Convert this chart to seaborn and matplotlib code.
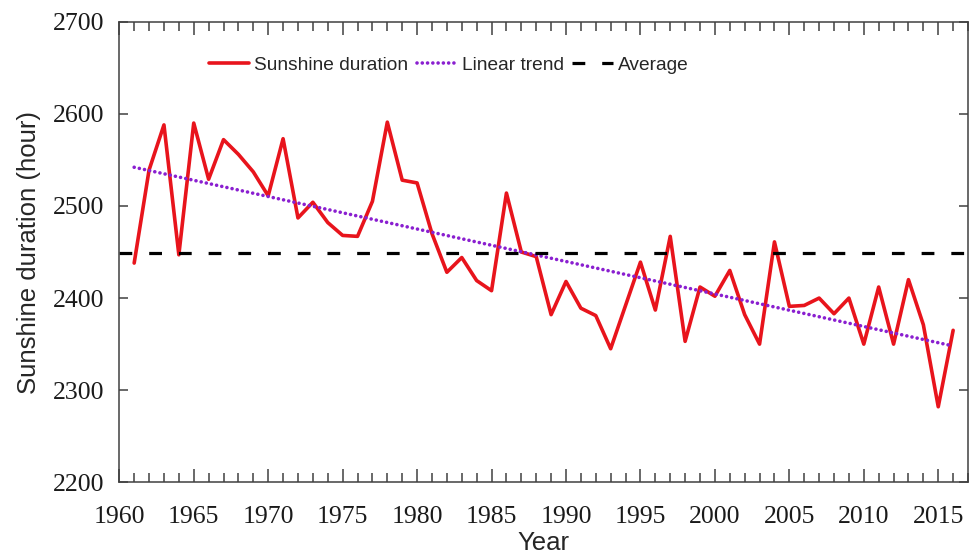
import numpy as np
import pandas as pd
import seaborn as sns
import matplotlib.pyplot as plt
from matplotlib.ticker import MultipleLocator

# valori
years = list(range(1961, 2017))
sunshine = [2438, 2539, 2588, 2447, 2590, 2529, 2572, 2556, 2537, 2511,
            2573, 2487, 2504, 2482, 2468, 2467, 2505, 2591, 2528, 2525,
            2470, 2428, 2444, 2419, 2408, 2514, 2450, 2445, 2382, 2418,
            2389, 2381, 2345, 2392, 2439, 2387, 2467, 2353, 2412, 2402,
            2430, 2382, 2350, 2461, 2391, 2392, 2400, 2383, 2400, 2350,
            2412, 2350, 2420, 2371, 2282, 2365]
trend_years = [1961, 2016]
trend_values = [2542, 2348]
average_value = 2449
y_ticks = [2200, 2300, 2400, 2500, 2600, 2700]

sns.set_style("ticks")
plt.rcParams['font.family'] = ['Liberation Sans', 'DejaVu Sans']

df = pd.DataFrame({"year": years, "sunshine": sunshine})
df_trend = pd.DataFrame({"year": trend_years, "value": trend_values})

fig = plt.figure(figsize=(9.69, 5.57), dpi=100)
ax = fig.add_axes([0.1231, 0.1341, 0.999 - 0.1231, 0.961 - 0.1341])

sns.lineplot(data=df, x="year", y="sunshine", color="#e8141c", lw=2.6,
             label="Sunshine duration", ax=ax)
sns.lineplot(data=df_trend, x="year", y="value", color="#8a1fd0", lw=2.6,
             linestyle=(0, (0.01, 1.45)), dash_capstyle="round",
             label="Linear trend", ax=ax)
ax.axhline(average_value, color="black", lw=2.3, linestyle=(0, (4, 5.3)),
           label="Average")

ax.set_xlim(1960, 2017)
ax.set_ylim(2200, 2700)
ax.xaxis.set_major_locator(MultipleLocator(5))
ax.xaxis.set_minor_locator(MultipleLocator(1))
ax.set_yticks(y_ticks)
ax.tick_params(axis="x", which="major", direction="in", length=9.5, width=1.1,
               top=True, bottom=True, color="#404040", pad=17)
ax.tick_params(axis="x", which="minor", direction="in", length=6.5, width=1.1,
               top=True, bottom=True, color="#404040")
ax.tick_params(axis="y", which="major", direction="in", length=6.5, width=1.1,
               left=True, right=True, color="#404040", pad=11)
for lab in ax.get_xticklabels() + ax.get_yticklabels():
    lab.set_family(["Liberation Serif", "DejaVu Serif"])
    lab.set_fontsize(18.5)
    lab.set_color("#1a1a1a")
for s in ax.spines.values():
    s.set_visible(True)
    s.set_color("#404040")
    s.set_linewidth(1.1)

ax.set_xlabel("Year", fontsize=18.5, labelpad=2)
ax.set_ylabel("Sunshine duration (hour)", fontsize=18.5, labelpad=8)

ax.legend(loc="center left", bbox_to_anchor=(0.1057, 0.905), ncol=3,
          frameon=False, fontsize=13.8, handlelength=2.1, handletextpad=0.25,
          columnspacing=0.45, borderpad=0, borderaxespad=0)

fig.savefig("out.png", dpi=100)
